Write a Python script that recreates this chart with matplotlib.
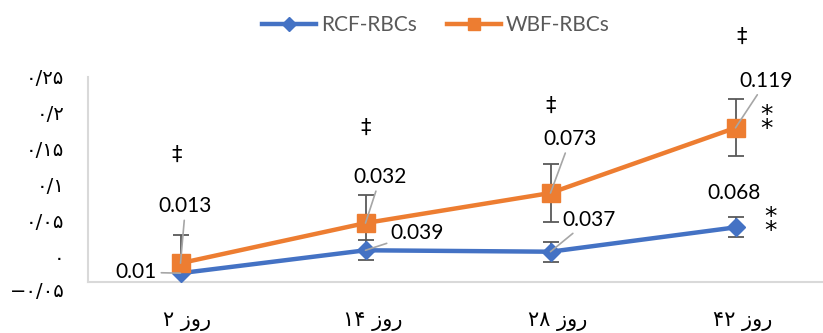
import re
import matplotlib
matplotlib.use("Agg")
import matplotlib.pyplot as plt
from matplotlib.lines import Line2D
from matplotlib.transforms import ScaledTranslation

# ---------------- data ----------------
categories = ["روز ۲", "روز ۱۴", "روز ۲۸", "روز ۴۲"]
series_names = ["RCF-RBCs", "WBF-RBCs"]
rcf_values = [-0.024, 0.008, 0.006, 0.040]
rcf_errors = [0.015, 0.014, 0.014, 0.014]
wbf_values = [-0.010, 0.046, 0.088, 0.179]
wbf_errors = [0.039, 0.039, 0.040, 0.040]
rcf_labels = ["0.01", "0.039", "0.037", "0.068"]
wbf_labels = ["0.013", "0.032", "0.073", "0.119"]
ytick_values = [0.25, 0.2, 0.15, 0.1, 0.05, 0.0, -0.05]
ytick_labels = ["۰/۲۵", "۰/۲", "۰/۱۵", "۰/۱", "۰/۰۵", "۰", "−۰/۰۵"]
dagger = "‡"
star2 = "*\n*"

BLUE = "#4472C4"
ORANGE = "#ED7D31"
ERR = "#595959"
AXC = "#D9D9D9"
LEAD = "#A6A6A6"
NUMFONT = ["Lato", "DejaVu Sans"]
FAFONT = ["DejaVu Sans"]


def visual(s):
    """Logical RTL string -> visual (left-to-right) order; digit runs kept."""
    tokens = re.findall(r"[۰-۹0-9/.]+|.", s)
    return "".join(reversed(tokens))


fig = plt.figure(figsize=(8.23, 3.33), dpi=100)
W, H = 823, 333
ax = fig.add_axes([88 / W, 51 / H, 740 / W, 205 / H])
x = list(range(len(categories)))

ax.errorbar(x, rcf_values, yerr=rcf_errors, fmt="none", ecolor=ERR,
            elinewidth=1.3, capsize=6, capthick=1.3, zorder=2)
ax.errorbar(x, wbf_values, yerr=wbf_errors, fmt="none", ecolor=ERR,
            elinewidth=1.3, capsize=6, capthick=1.3, zorder=2)
l1, = ax.plot(x, rcf_values, color=BLUE, lw=3.2, marker="D", markersize=9.5,
              zorder=3)
l2, = ax.plot(x, wbf_values, color=ORANGE, lw=3.2, marker="s", markersize=12.5,
              zorder=4)

ax.set_xlim(-0.5, 3.5)
ax.set_ylim(-0.0363, 0.25)

for s in ["top", "right"]:
    ax.spines[s].set_visible(False)
for s in ["left", "bottom"]:
    ax.spines[s].set_color(AXC)
    ax.spines[s].set_linewidth(1.5)

ax.set_xticks(x)
ax.set_xticklabels([visual(c) for c in categories], family=FAFONT,
                   fontsize=15, color="black")
ax.tick_params(axis="x", length=0, pad=21)
shift = ScaledTranslation(7 / 100, 0, fig.dpi_scale_trans)
for t in ax.get_xticklabels():
    t.set_transform(t.get_transform() + shift)

in_rng = [(v, l) for v, l in zip(ytick_values, ytick_labels) if v >= ax.get_ylim()[0]]
ax.set_yticks([v for v, _ in in_rng])
ax.set_yticklabels([l for _, l in in_rng], family=FAFONT, fontsize=14)
ax.tick_params(axis="y", length=0, pad=17)
for v, l in zip(ytick_values, ytick_labels):
    if v < ax.get_ylim()[0]:
        ax.annotate(l, xy=(0, v), xycoords=ax.get_yaxis_transform(),
                    xytext=(-17, 0), textcoords="offset points",
                    ha="right", va="center", family=FAFONT, fontsize=14,
                    annotation_clip=False)

# data labels with leader lines
wbf_off = [(5, 57), (15, 46), (20, 54), (31, 47)]
rcf_off = [(-44, 1), (52, 17), (39, 32), (-1, 34)]
rcf_leader = [True, True, True, False]
for i in x:
    ax.annotate(wbf_labels[i], xy=(i, wbf_values[i]), xytext=wbf_off[i],
                textcoords="offset pixels", ha="center", va="center",
                fontsize=15, family=NUMFONT, zorder=6,
                arrowprops=dict(arrowstyle="-", color=LEAD, lw=1.2,
                                shrinkA=1, shrinkB=0))
    ap = dict(arrowstyle="-", color=LEAD, lw=1.2, shrinkA=1, shrinkB=0) if rcf_leader[i] else None
    ax.annotate(rcf_labels[i], xy=(i, rcf_values[i]), xytext=rcf_off[i],
                textcoords="offset pixels", ha="center", va="center",
                fontsize=15, family=NUMFONT, zorder=6, arrowprops=ap)

# significance marks
dag_off = [(-4, 108), (0, 95), (0, 87), (6, 91)]
for i in x:
    ax.annotate(dagger, xy=(i, wbf_values[i]), xytext=dag_off[i],
                textcoords="offset pixels", ha="center", va="center",
                fontsize=15, family=["DejaVu Sans"], annotation_clip=False)
for yv, dx, dy in [(wbf_values[3], 31, 6), (rcf_values[3], 35, 3)]:
    ax.annotate(star2, xy=(3, yv), xytext=(dx, dy),
                textcoords="offset pixels", ha="center", va="center",
                fontsize=18, linespacing=0.48, family=["DejaVu Sans"],
                annotation_clip=False)

handles = [Line2D([], [], color=BLUE, lw=3.2, marker="D", markersize=7),
           Line2D([], [], color=ORANGE, lw=3.2, marker="s", markersize=8)]
leg = fig.legend(handles, series_names, loc="center",
                 bbox_to_anchor=(436 / W, 1 - 25 / H), ncol=2, frameon=False,
                 handlelength=2.6, handletextpad=0.25, columnspacing=1.4,
                 prop=dict(family=NUMFONT, size=15))
for t in leg.get_texts():
    t.set_color("#595959")

fig.savefig("out.png", dpi=100)
